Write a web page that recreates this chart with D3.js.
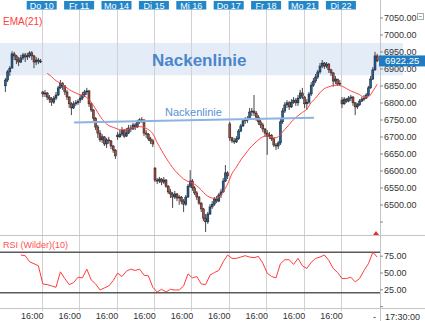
<!DOCTYPE html>
<html lang="de">
<head>
<meta charset="utf-8">
<title>Nackenlinie</title>
<script src="https://cdn.jsdelivr.net/npm/d3@7"></script>
<style>
	body { margin: 0; background: #fff; }
	svg { display: block; font-family: "Liberation Sans", Arial, sans-serif; }
</style>
</head>
<body>
<script>

var W = 425, H = 321;

// 30 min bars, 17 per session; first session (Mi 9) has no label
var barsPerDay = 17;
var dayLabels = ["", "Do 10", "Fr 11", "Mo 14", "Di 15", "Mi 16", "Do 17", "Fr 18", "Mo 21", "Di 22"];
var dayOpen = [6849, 6831, 6807, 6704, 6607, 6569, 6737, 6710, 6816, 6807];

var close = [
	6866, 6890, 6901, 6943, 6937, 6925, 6919, 6931, 6940, 6934, 6937, 6946, 6937, 6919, 6925, 6922, 6922,
	6825, 6828, 6816, 6810, 6801, 6813, 6822, 6843, 6857, 6849, 6831, 6816, 6796, 6784, 6796, 6799, 6804,
	6813, 6822, 6831, 6834, 6796, 6778, 6754, 6728, 6710, 6690, 6699, 6678, 6690, 6687, 6672, 6660, 6643,
	6699, 6707, 6719, 6701, 6710, 6725, 6722, 6734, 6728, 6743, 6749, 6749, 6710, 6707, 6693, 6687, 6678,
	6572, 6569, 6575, 6566, 6572, 6554, 6537, 6531, 6522, 6531, 6519, 6522, 6510, 6501, 6522, 6554, 6569,
	6549, 6534, 6522, 6504, 6487, 6460, 6449, 6472, 6493, 6501, 6516, 6510, 6528, 6537, 6569, 6593, 6584,
	6696, 6687, 6684, 6693, 6716, 6731, 6746, 6749, 6751, 6772, 6775, 6769, 6757, 6743, 6734, 6722, 6710,
	6701, 6704, 6693, 6675, 6672, 6681, 6743, 6775, 6793, 6799, 6787, 6801, 6807, 6799, 6813, 6828, 6819,
	6796, 6801, 6825, 6851, 6863, 6875, 6890, 6907, 6916, 6907, 6913, 6896, 6887, 6863, 6869, 6854, 6857,
	6796, 6810, 6804, 6813, 6816, 6799, 6787, 6793, 6804, 6810, 6813, 6822, 6843, 6869, 6896, 6937, 6922.25
];
var high = [
	6872, 6896, 6907, 6951, 6949, 6940, 6934, 6940, 6946, 6946, 6946, 6951, 6951, 6940, 6934, 6931, 6928,
	6834, 6837, 6831, 6822, 6816, 6819, 6831, 6849, 6866, 6860, 6851, 6837, 6819, 6801, 6804, 6807, 6810,
	6822, 6831, 6837, 6843, 6837, 6799, 6781, 6757, 6734, 6719, 6707, 6701, 6696, 6699, 6690, 6675, 6663,
	6713, 6719, 6728, 6722, 6725, 6734, 6734, 6740, 6740, 6749, 6754, 6757, 6749, 6719, 6710, 6699, 6693,
	6610, 6578, 6581, 6578, 6581, 6575, 6557, 6546, 6537, 6540, 6534, 6528, 6525, 6516, 6528, 6560, 6601,
	6575, 6554, 6540, 6525, 6507, 6490, 6472, 6478, 6501, 6510, 6522, 6525, 6534, 6546, 6578, 6616, 6598,
	6743, 6699, 6696, 6701, 6722, 6737, 6751, 6757, 6760, 6784, 6784, 6822, 6775, 6763, 6749, 6740, 6725,
	6719, 6713, 6707, 6696, 6681, 6687, 6754, 6784, 6801, 6807, 6804, 6810, 6816, 6813, 6822, 6837, 6843,
	6819, 6810, 6831, 6860, 6872, 6884, 6896, 6916, 6925, 6919, 6919, 6916, 6899, 6890, 6878, 6866, 6866,
	6816, 6816, 6813, 6819, 6822, 6819, 6801, 6799, 6810, 6816, 6822, 6828, 6849, 6878, 6904, 6949, 6943
];
var low = [
	6831, 6860, 6878, 6901, 6925, 6913, 6907, 6916, 6925, 6919, 6925, 6931, 6925, 6901, 6910, 6913, 6916,
	6816, 6816, 6807, 6799, 6790, 6796, 6807, 6819, 6840, 6837, 6822, 6807, 6784, 6763, 6781, 6790, 6793,
	6799, 6807, 6816, 6822, 6787, 6772, 6746, 6719, 6696, 6684, 6681, 6672, 6666, 6678, 6663, 6652, 6634,
	6690, 6696, 6701, 6696, 6699, 6707, 6713, 6719, 6719, 6725, 6737, 6740, 6701, 6696, 6687, 6678, 6669,
	6566, 6560, 6563, 6557, 6560, 6549, 6531, 6519, 6490, 6516, 6510, 6499, 6501, 6478, 6496, 6519, 6549,
	6540, 6528, 6513, 6499, 6478, 6451, 6419, 6443, 6469, 6487, 6496, 6504, 6507, 6519, 6534, 6566, 6575,
	6687, 6681, 6678, 6681, 6690, 6713, 6728, 6737, 6740, 6749, 6760, 6760, 6746, 6734, 6725, 6713, 6699,
	6646, 6693, 6687, 6669, 6660, 6663, 6675, 6737, 6769, 6784, 6778, 6784, 6796, 6790, 6790, 6810, 6810,
	6784, 6778, 6796, 6819, 6846, 6857, 6869, 6884, 6901, 6899, 6901, 6887, 6878, 6846, 6854, 6849, 6849,
	6784, 6793, 6799, 6801, 6804, 6790, 6763, 6781, 6790, 6801, 6804, 6810, 6819, 6840, 6866, 6893, 6919
];

// EMA(21), read every 2nd bar starting at bar 19
var emaFirst = 19, emaStep = 2;
var ema21 = [
	6886, 6876, 6864, 6857, 6848, 6838, 6831, 6825, 6821, 6815, 6801, 6781, 6760, 6743, 6732, 6727,
	6722, 6719, 6720, 6724, 6727, 6729, 6727, 6720, 6708, 6682, 6659, 6637, 6618, 6600, 6587, 6575,
	6568, 6563, 6555, 6543, 6529, 6521, 6518, 6521, 6538, 6560, 6591, 6610, 6631, 6648, 6665, 6678,
	6690, 6699, 6702, 6699, 6696, 6706, 6721, 6735, 6750, 6761, 6771, 6780, 6800, 6813, 6829, 6841,
	6846, 6850, 6851, 6848, 6841, 6834, 6829, 6823, 6816, 6817, 6833, 6854
];

// RSI (Wilder)(10), read every 2nd bar starting at bar 7
var rsiFirst = 7, rsiStep = 2;
var rsi10 = [
	76, 75, 66, 63, 60, 33, 32, 30, 28, 51, 41, 32, 35, 43, 42, 55, 39, 33, 24, 27, 30,
	38, 49, 44, 52, 55, 53, 55, 46, 45, 28, 21, 25, 21, 25, 24, 24, 30, 48, 42, 44, 33,
	32, 46, 50, 53, 66, 76, 71, 71, 73, 75, 73, 72, 74, 64, 49, 44, 42, 63, 69, 69, 62,
	71, 60, 56, 65, 71, 73, 76, 68, 56, 50, 41, 41, 43, 36, 41, 53, 63, 80, 73
];

var priceTicks = [7050, 7000, 6950, 6900, 6850, 6800, 6750, 6700, 6650, 6600, 6550, 6500, 6450];
var rsiTicks = [75, 50, 25, 0];
var rsiLevels = [80, 20];
var timeTickBar = 12.5;   // position of the 16:00 label inside a session
var neckZone = [6880, 6975];
var neckLine = [[31.7, 6741], [140.8, 6755]];   // [bar, price]
var lastPrice = 6922.25;

var nBars = close.length;
var open = close.map(function(c, k) {
	return k % barsPerDay === 0 ? dayOpen[k / barsPerDay] : close[k - 1];
});

var svg = d3.select("body").append("svg").attr("width", W).attr("height", H);

var x = d3.scaleLinear().domain([0, nBars]).range([4.3, 378.3]);
var y = d3.scaleLinear().domain([6500, 7050]).range([204.5, 17.5]);
var yr = d3.scaleLinear().domain([25, 75]).range([289.3, 255.7]);

// neckline zone
svg.append("rect")
	.attr("x", 0).attr("width", 403)
	.attr("y", y(neckZone[1])).attr("height", y(neckZone[0]) - y(neckZone[1]))
	.attr("fill", "#e4ecf8");

// session separators
svg.selectAll("line.grid")
	.data(d3.range(1, dayLabels.length))
	.enter().append("line")
	.attr("class", "grid")
	.attr("x1", function(d) { return Math.round(x(d * barsPerDay)) + 0.5; })
	.attr("x2", function(d) { return Math.round(x(d * barsPerDay)) + 0.5; })
	.attr("y1", 9).attr("y2", 311)
	.attr("stroke", "#d2d2d2");

// frame lines
svg.append("line").attr("x1", 0).attr("x2", W).attr("y1", 235.5).attr("y2", 235.5).attr("stroke", "#c4c4c4");
svg.append("line").attr("x1", 0).attr("x2", W).attr("y1", 308.5).attr("y2", 308.5).attr("stroke", "#c4c4c4");
svg.append("line").attr("x1", 380.5).attr("x2", 380.5).attr("y1", 0).attr("y2", H).attr("stroke", "#c4c4c4");

// RSI 80/20
svg.selectAll("line.lvl")
	.data(rsiLevels)
	.enter().append("line")
	.attr("x1", 0).attr("x2", 380)
	.attr("y1", function(d) { return yr(d); })
	.attr("y2", function(d) { return yr(d); })
	.attr("stroke", "#5a5a5a").attr("stroke-width", 1.5);

// candles
var bars = svg.append("g");
bars.selectAll("line")
	.data(d3.range(nBars))
	.enter().append("line")
	.attr("x1", function(k) { return x(k + 0.5); })
	.attr("x2", function(k) { return x(k + 0.5); })
	.attr("y1", function(k) { return y(Math.max(high[k], open[k], close[k])); })
	.attr("y2", function(k) { return y(Math.min(low[k], open[k], close[k])); })
	.attr("stroke", "#333").attr("stroke-width", 0.9);
bars.selectAll("rect")
	.data(d3.range(nBars))
	.enter().append("rect")
	.attr("x", function(k) { return x(k + 0.5) - 1; })
	.attr("width", 2)
	.attr("y", function(k) { return y(Math.max(open[k], close[k])); })
	.attr("height", function(k) { return Math.max(1, Math.abs(y(open[k]) - y(close[k]))); })
	.attr("fill", function(k) { return close[k] >= open[k] ? "#1f609e" : "#a84a3d"; })
	.attr("stroke", "#1a1a1a").attr("stroke-width", 0.5);

// EMA
svg.append("path")
	.datum(ema21)
	.attr("fill", "none").attr("stroke", "#ff4646").attr("stroke-width", 1)
	.attr("d", d3.line()
		.x(function(d, i) { return x(emaFirst + i * emaStep + 0.5); })
		.y(function(d) { return y(d); })
		.curve(d3.curveMonotoneX));

// RSI
svg.append("path")
	.datum(rsi10)
	.attr("fill", "none").attr("stroke", "#ff3c3c").attr("stroke-width", 1)
	.attr("d", d3.line()
		.x(function(d, i) { return x(rsiFirst + i * rsiStep + 0.5); })
		.y(function(d) { return yr(d); }));

// drawn neckline
svg.append("line")
	.attr("x1", x(neckLine[0][0])).attr("y1", y(neckLine[0][1]))
	.attr("x2", x(neckLine[1][0])).attr("y2", y(neckLine[1][1]))
	.attr("stroke", "#8db3e2").attr("stroke-width", 2);

svg.append("text").attr("x", 165).attr("y", 116)
	.attr("font-size", 11).attr("fill", "#5b90d3").text("Nackenlinie");
svg.append("text").attr("x", 152).attr("y", 65.7)
	.attr("font-size", 17).attr("font-weight", "bold").attr("fill", "#4a86c9").text("Nackenlinie");

svg.append("text").attr("x", 3).attr("y", 25)
	.attr("font-size", 10).attr("fill", "#ff4040").text("EMA(21)");
svg.append("text").attr("x", 3).attr("y", 247.5)
	.attr("font-size", 9).attr("fill", "#ff5050").text("RSI (Wilder)(10)");

// day labels
var days = svg.selectAll("g.day")
	.data(d3.range(1, dayLabels.length))
	.enter().append("g")
	.attr("transform", function(d) { return "translate(" + x(d * barsPerDay) + ",0)"; });
days.append("rect")
	.attr("x", -15).attr("y", 1).attr("width", 30).attr("height", 8.5)
	.attr("fill", "#2386c8");
days.append("text")
	.attr("y", 8.6).attr("text-anchor", "middle")
	.attr("font-size", 9).attr("fill", "#fff")
	.text(function(d) { return dayLabels[d]; });

// price axis
var fmt = d3.format(".2f");
var yAxis = d3.axisRight(y).tickValues(priceTicks).tickSize(3).tickPadding(1)
	.tickFormat(function(d) { return d < 6500 ? "" : fmt(d); });
var ga = svg.append("g").attr("transform", "translate(380,0)").call(yAxis);

var rAxis = d3.axisRight(yr).tickValues(rsiTicks).tickSize(3).tickPadding(1)
	.tickFormat(function(d) { return d === 0 ? "" : fmt(d); });
var gr = svg.append("g").attr("transform", "translate(380,0)").call(rAxis);

var tAxis = d3.axisBottom(x)
	.tickValues(d3.range(dayLabels.length - 1).map(function(d) { return d * barsPerDay + timeTickBar; }))
	.tickFormat(function() { return "16:00"; })
	.tickSize(0).tickPadding(5);
var gt = svg.append("g").attr("transform", "translate(0,308)").call(tAxis);

[ga, gr, gt].forEach(function(g) {
	g.attr("font-family", null).attr("font-size", null);
	g.select(".domain").remove();
	g.selectAll("line").attr("stroke", "#888");
	g.selectAll("text").attr("font-size", 9).attr("fill", "#333");
});

// last price marker
svg.append("rect").attr("x", 379).attr("y", y(lastPrice) - 5.5).attr("width", 46).attr("height", 11)
	.attr("fill", "#1f7cc2");
svg.append("text").attr("x", 385).attr("y", y(lastPrice) + 3.3)
	.attr("font-size", 9.5).attr("fill", "#fff").text(fmt(lastPrice));

// bits on the right
svg.append("text").attr("x", 373).attr("y", 319.5).attr("font-size", 9).attr("fill", "#333").text("-");
svg.append("text").attr("x", 385).attr("y", 319.5).attr("font-size", 9).attr("fill", "#333").text("17:30:00");
svg.append("path").attr("d", "M373,235 L376,231 L379,235 Z").attr("fill", "#e03030");
svg.append("rect").attr("x", 417.5).attr("y", 13.5).attr("width", 6).attr("height", 6)
	.attr("fill", "none").attr("stroke", "#aaa");
svg.append("line").attr("x1", 419).attr("x2", 422).attr("y1", 16.5).attr("y2", 16.5).attr("stroke", "#aaa");

</script>
</body>
</html>
